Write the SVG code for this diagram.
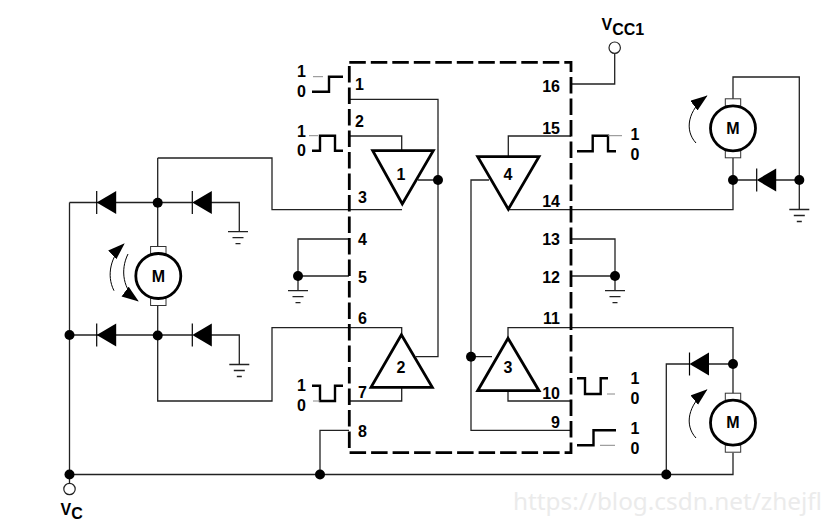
<svg xmlns="http://www.w3.org/2000/svg" width="831" height="525" viewBox="0 0 831 525">
<defs>
<style>
text{font-family:"Liberation Sans",Arial,sans-serif;font-weight:bold;fill:#000;font-size:16px}
.w{fill:none;stroke:#222;stroke-width:1.3}
.tri{fill:none;stroke:#000;stroke-width:2.8;stroke-linejoin:miter}
.ic{fill:none;stroke:#000;stroke-width:2.8;stroke-dasharray:16.5 5}
.wave{fill:none;stroke:#000;stroke-width:2.4}
.thin{fill:none;stroke:#888;stroke-width:1}
.dot{fill:#000;stroke:none}
.open{fill:#fff;stroke:#222;stroke-width:1.2}
.mot{fill:#fff;stroke:#000;stroke-width:2.8}
.brush{fill:#fff;stroke:#333;stroke-width:1}
.d{fill:#000;stroke:none}
.bar{stroke:#000;stroke-width:1.2;fill:none}
.arc{fill:none;stroke:#000;stroke-width:1}
.m{font-size:16px;text-anchor:middle}
.e{text-anchor:end}
.c{text-anchor:middle}
.wm{font-family:"Noto Sans","Liberation Sans",sans-serif;font-weight:normal;font-size:24px;fill:#ebebeb}
</style>
<g id="gnd"><path class="w" d="M-10 0H10M-5.5 6H5.5M-2.5 12H2.5"/></g>
<g id="diode"><path class="d" d="M0 0L19.5 -11.5V11.5Z"/><path class="bar" d="M0 -11.5V11.5"/></g>
<g id="motor">
<rect class="brush" x="-7.7" y="-29.5" width="15.4" height="7"/>
<rect class="brush" x="-7.7" y="22.5" width="15.4" height="7"/>
<circle class="mot" r="22.5"/>
</g>
<marker id="ah" markerWidth="18" markerHeight="14" refX="16" refY="6" orient="auto" markerUnits="userSpaceOnUse"><path d="M0 0L17 6L0 12Z" fill="#000"/></marker>
</defs>
<rect width="831" height="525" fill="#fff"/>
<g id="connectors">
<path class="w" d="M69.5 202.5H192M157.7 158V246.5M157.7 305.7V401H272V327.7H401.7V335M157.7 158H272V209.7H402"/>
<path class="w" d="M69.5 474.5V202.5M69.5 335H192M211 202.5H239.3V231M211 335H239.3V364M69.5 474.5V484"/>
<path class="w" d="M349 239H298V290M298 276H349"/>
<path class="w" d="M349 99.3H438V356.7H416M438 180H418M349 136H401.7V150"/>
<path class="w" d="M401.7 387V401H349M320 474.5V430.3H349"/>
<path class="w" d="M571 136H508.3V157M508.3 209.7H733V158M489 180H471V430.3H571M471 356.7H492"/>
<path class="w" d="M508 338V327.7H733V393.7M508 391V401H571"/>
<path class="w" d="M571 84H614.7V53.5"/>
<path class="w" d="M733 99V77H799.3V209.3M733 180H757M776 180H799.3"/>
<path class="w" d="M733 364H709M689.5 364H666.3V474.5M733 452.7V474.5H69.5"/>
<path class="w" d="M571 239H615V290M571 276H615"/>
</g>
<g id="ic"><path class="ic" d="M349.3 62.3H571V452.7H349.3Z"/></g>
<g id="buffer1"><path class="tri" d="M372.7 150.7H433.3L402.3 204Z"/><text class="c" x="401" y="180">1</text></g>
<g id="buffer2"><path class="tri" d="M371 387.3H432.3L401.4 334.7Z"/><text class="c" x="401" y="373">2</text></g>
<g id="buffer3"><path class="tri" d="M477.7 390.7H539L508 338.3Z"/><text class="c" x="508" y="373">3</text></g>
<g id="buffer4"><path class="tri" d="M477.7 156.7H539L508.3 209.3Z"/><text class="c" x="508" y="180">4</text></g>
<g id="pins">
<text x="355" y="90">1</text><text x="355" y="127">2</text><text x="358" y="203">3</text><text x="358" y="245">4</text><text x="358" y="283">5</text><text x="358" y="324">6</text><text x="358" y="398">7</text><text x="358" y="437">8</text>
<text class="e" x="560" y="92">16</text><text class="e" x="560" y="134">15</text><text class="e" x="560" y="207">14</text><text class="e" x="560" y="245">13</text><text class="e" x="560" y="283">12</text><text class="e" x="560" y="324">11</text><text class="e" x="560" y="399">10</text><text class="e" x="560" y="428">9</text>
</g>
<g id="junctions">
<circle class="dot" cx="157.7" cy="202.7" r="5"/><circle class="dot" cx="157.7" cy="335.5" r="5"/><circle class="dot" cx="69.5" cy="335" r="5"/><circle class="dot" cx="298" cy="276" r="5"/>
<circle class="dot" cx="438" cy="180" r="5"/><circle class="dot" cx="471" cy="356.7" r="5"/><circle class="dot" cx="320" cy="474.5" r="5"/><circle class="dot" cx="69.5" cy="474.5" r="5"/>
<circle class="dot" cx="666.3" cy="474.5" r="5"/><circle class="dot" cx="733" cy="364" r="5"/><circle class="dot" cx="733" cy="180" r="5"/><circle class="dot" cx="799.3" cy="180" r="5"/><circle class="dot" cx="615" cy="276" r="5"/>
</g>
<g id="diodes">
<use href="#diode" x="96.7" y="202.5"/><use href="#diode" x="192.3" y="202.5"/><use href="#diode" x="96.7" y="335"/><use href="#diode" x="192.3" y="335"/><use href="#diode" x="756.7" y="180"/><use href="#diode" x="689.5" y="364"/>
</g>
<g id="grounds">
<use href="#gnd" x="238" y="231.7"/><use href="#gnd" x="239.3" y="364.5"/><use href="#gnd" x="298" y="290.7"/><use href="#gnd" x="615" y="290.7"/><use href="#gnd" x="799.3" y="209.5"/>
</g>
<g id="motor-left"><use href="#motor" x="158.3" y="276"/><text class="m" x="158.3" y="281.8">M</text>
<path class="arc" d="M114 290.7C106 275 111 256 124 244" marker-end="url(#ah)"/><path class="arc" d="M128 254C120 270 123 290 138 301" marker-end="url(#ah)"/></g>
<g id="motor-top"><use href="#motor" x="733" y="128.3"/><text class="m" x="733" y="134">M</text>
<path class="arc" d="M696 143C684 130 688 110 706.7 96" marker-end="url(#ah)"/></g>
<g id="motor-bottom"><use href="#motor" x="733" y="422.7"/><text class="m" x="733" y="428.4">M</text>
<path class="arc" d="M696 438C684 425 688 405 706.7 390" marker-end="url(#ah)"/></g>
<g id="waveforms">
<path class="wave" d="M312 91.7H329V76.7H343"/><path class="thin" d="M313 76.7H323"/>
<path class="wave" d="M312 150.7H320V135.7H335V150.7H343"/><path class="thin" d="M309 135.7H318"/>
<path class="wave" d="M312 385.7H320V401H335V385.7H343"/><path class="thin" d="M313 401H320"/>
<path class="wave" d="M577 151.3H592.7V135.7H608V151.3H616"/><path class="thin" d="M608 135.7H622"/>
<path class="wave" d="M577 378.3H585V394H600.7V378.3H608"/><path class="thin" d="M607 394H615"/>
<path class="wave" d="M577 445.3H593.5V430.3H616"/><path class="thin" d="M600 445.3H615"/>
<text x="297" y="77">1</text><text x="297" y="97">0</text>
<text x="297" y="136.7">1</text><text x="297" y="156">0</text>
<text x="297" y="391">1</text><text x="297" y="411">0</text>
<text x="630.5" y="140">1</text><text x="630.5" y="160">0</text>
<text x="630.5" y="384">1</text><text x="630.5" y="404">0</text>
<text x="630.5" y="434">1</text><text x="630.5" y="454">0</text>
</g>
<g id="vcc1"><circle class="open" cx="614.7" cy="47.7" r="5.7"/><text x="601.5" y="30" style="font-size:16px">V<tspan dy="5">CC1</tspan></text></g>
<g id="vc"><circle class="open" cx="69.5" cy="489" r="5.7"/><text x="60.5" y="515" style="font-size:16px">V<tspan dy="4">C</tspan></text></g>
<text class="wm" x="513" y="510" textLength="309" lengthAdjust="spacingAndGlyphs">https://blog.csdn.net/zhejfl</text>
</svg>
